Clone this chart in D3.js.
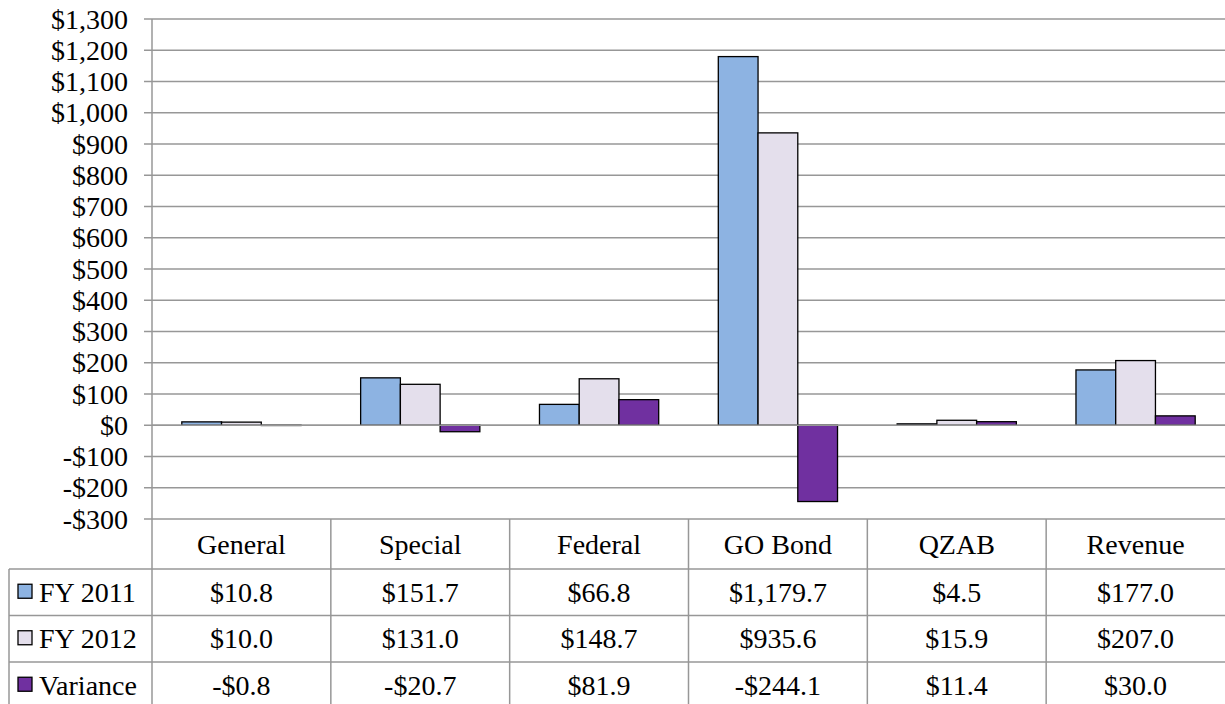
<!DOCTYPE html>
<html>
<head>
<meta charset="utf-8">
<script src="https://cdn.jsdelivr.net/npm/d3@7"></script>
<style>
  html, body { margin: 0; padding: 0; background: #fff; }
  svg { display: block; }
</style>
</head>
<body>
<div id="chart-container"></div>
<script>
const categories = ['General', 'Special', 'Federal', 'GO Bond', 'QZAB', 'Revenue']
const seriesNames = ['FY 2011', 'FY 2012', 'Variance']
const fy2011 = [10.8, 151.7, 66.8, 1179.7, 4.5, 177.0]
const fy2012 = [10.0, 131.0, 148.7, 935.6, 15.9, 207.0]
const variance = [-0.8, -20.7, 81.9, -244.1, 11.4, 30.0]
const yTicks = [-300, -200, -100, 0, 100, 200, 300, 400, 500, 600, 700, 800, 900, 1000, 1100, 1200, 1300]

const colors = ['#8db3e2', '#e4dfec', '#7030a0']

// Options:
const width = 1225
const height = 704
const plotLeft = 152
const plotRight = 1225
const plotTop = 19
const plotBottom = 519
const tableLeft = 9
const headerHeight = 50
const rowHeight = 46.5
const fontFamily = "'Liberation Serif', 'Noto Serif', 'DejaVu Serif', serif"
const fontSize = 28
const gridColor = '#979797'

const seriesValues = [fy2011, fy2012, variance]
const data = categories.map((c, i) => ({
  category: c,
  values: seriesNames.map((s, j) => ({ series: s, index: j, value: seriesValues[j][i] })),
}))

const fmtAxis = v => (v < 0 ? '-$' : '$') + d3.format(',')(Math.abs(v))
const fmtCell = v => (v < 0 ? '-$' : '$') + d3.format(',.1f')(Math.abs(v))

const textStyle = sel =>
  sel.attr('font-family', fontFamily).attr('font-size', fontSize).attr('fill', '#000')

const svg = d3
  .select('#chart-container')
  .append('svg')
  .attr('width', width)
  .attr('height', height)
  .attr('font-family', fontFamily)

const yScale = d3.scaleLinear().domain([-300, 1300]).range([plotBottom, plotTop])

const xScale = d3.scaleBand().domain(categories).range([plotLeft, plotRight]).padding(0)

const xInner = d3
  .scaleBand()
  .domain(seriesNames)
  .range([0, xScale.bandwidth()])
  .paddingInner(0)
  .paddingOuter(0.75)

const rowTops = seriesNames.map((s, i) => plotBottom + headerHeight + i * rowHeight)

// texts first in the DOM (none of them overlaps a mark)
const labels = svg.append('g').attr('class', 'labels')

labels
  .selectAll('text.ytick')
  .data(yTicks)
  .join('text')
  .attr('class', 'ytick')
  .attr('x', plotLeft - 24)
  .attr('y', d => yScale(d))
  .attr('dy', '0.34em')
  .attr('text-anchor', 'end')
  .call(textStyle)
  .text(fmtAxis)

labels
  .selectAll('text.head')
  .data(categories)
  .join('text')
  .attr('class', 'head')
  .attr('x', d => xScale(d) + xScale.bandwidth() / 2)
  .attr('y', plotBottom + headerHeight / 2)
  .attr('dy', '0.36em')
  .attr('text-anchor', 'middle')
  .call(textStyle)
  .text(d => d)

labels
  .selectAll('text.series')
  .data(seriesNames)
  .join('text')
  .attr('class', 'series')
  .attr('x', 39)
  .attr('y', (d, i) => rowTops[i] + rowHeight / 2)
  .attr('dy', '0.34em')
  .call(textStyle)
  .text(d => d)

labels
  .selectAll('text.cell')
  .data(
    seriesNames.flatMap((s, i) =>
      categories.map((c, k) => ({ row: i, category: c, value: seriesValues[i][k] })),
    ),
  )
  .join('text')
  .attr('class', 'cell')
  .attr('x', d => xScale(d.category) + xScale.bandwidth() / 2)
  .attr('y', d => rowTops[d.row] + rowHeight / 2)
  .attr('dy', '0.34em')
  .attr('text-anchor', 'middle')
  .call(textStyle)
  .text(d => fmtCell(d.value))

// grid lines
svg
  .append('g')
  .attr('class', 'y-grid')
  .selectAll('line')
  .data(yTicks)
  .join('line')
  .attr('x1', plotLeft - 8)
  .attr('x2', plotRight)
  .attr('y1', d => yScale(d))
  .attr('y2', d => yScale(d))
  .attr('stroke', gridColor)
  .attr('stroke-width', 1.5)

// bars
const groups = svg
  .append('g')
  .attr('class', 'bars')
  .selectAll('g')
  .data(data)
  .join('g')
  .attr('transform', d => `translate(${xScale(d.category)},0)`)

groups
  .selectAll('rect')
  .data(d => d.values)
  .join('rect')
  .attr('x', d => xInner(d.series))
  .attr('width', xInner.bandwidth())
  .attr('y', d => yScale(Math.max(0, d.value)))
  .attr('height', d => Math.abs(yScale(d.value) - yScale(0)))
  .attr('fill', d => colors[d.index])
  .attr('stroke', '#000')
  .attr('stroke-width', 1.3)

// zero line on top of bars
svg
  .append('line')
  .attr('x1', plotLeft)
  .attr('x2', plotRight)
  .attr('y1', yScale(0))
  .attr('y2', yScale(0))
  .attr('stroke', gridColor)
  .attr('stroke-width', 1.5)

// y-axis line
svg
  .append('line')
  .attr('x1', plotLeft)
  .attr('x2', plotLeft)
  .attr('y1', plotTop)
  .attr('y2', height)
  .attr('stroke', gridColor)
  .attr('stroke-width', 1.5)

// data table lines
const table = svg.append('g').attr('class', 'data-table')

table
  .selectAll('line.h')
  .data(rowTops)
  .join('line')
  .attr('class', 'h')
  .attr('x1', tableLeft)
  .attr('x2', plotRight)
  .attr('y1', d => d)
  .attr('y2', d => d)
  .attr('stroke', gridColor)
  .attr('stroke-width', 1.5)

table
  .selectAll('line.v')
  .data(categories.slice(1))
  .join('line')
  .attr('class', 'v')
  .attr('x1', d => xScale(d))
  .attr('x2', d => xScale(d))
  .attr('y1', plotBottom)
  .attr('y2', height)
  .attr('stroke', gridColor)
  .attr('stroke-width', 1.5)

table
  .append('line')
  .attr('x1', tableLeft)
  .attr('x2', tableLeft)
  .attr('y1', rowTops[0])
  .attr('y2', height)
  .attr('stroke', gridColor)
  .attr('stroke-width', 1.5)

// legend keys
table
  .selectAll('rect')
  .data(seriesNames)
  .join('rect')
  .attr('x', 18)
  .attr('y', (d, i) => rowTops[i] + rowHeight / 2 - 8)
  .attr('width', 14)
  .attr('height', 14)
  .attr('fill', (d, i) => colors[i])
  .attr('stroke', '#000')
  .attr('stroke-width', 1.3)
</script>
</body>
</html>
